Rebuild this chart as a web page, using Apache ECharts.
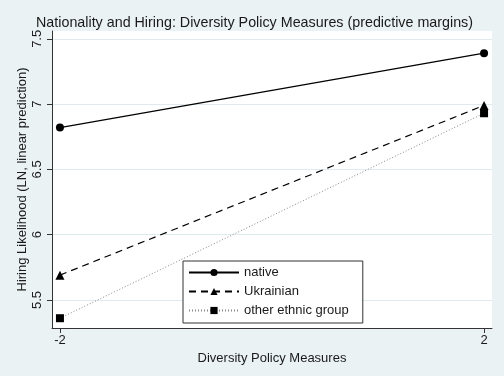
<!DOCTYPE html>
<html>
<head>
<meta charset="utf-8">
<script src="https://cdn.jsdelivr.net/npm/echarts@6/dist/echarts.min.js"></script>
<style>
html, body { margin: 0; padding: 0; background: #eaf2f3; }
#main { width: 504px; height: 376px; }
</style>
</head>
<body>
<div id="main"></div>
<script>
var xValues = [-2, 2];
var nativeData = [6.82, 7.39];
var ukrainianData = [5.69, 6.99];
var otherData = [5.36, 6.93];
var yTicks = [5.5, 6, 6.5, 7, 7.5];

function pairs(ys) {
    return xValues.map(function (x, i) { return [x, ys[i]]; });
}

var myChart = echarts.init(document.getElementById('main'));
var font = 'Liberation Sans, Arial, sans-serif';

var option = {
    backgroundColor: '#eaf2f3',
    animation: false,
    title: {
        text: 'Nationality and Hiring: Diversity Policy Measures (predictive margins)',
        left: 31,
        top: 11,
        textStyle: { fontFamily: font, fontSize: 14.3, fontWeight: 'normal', color: '#1a1a1a' }
    },
    legend: {
        orient: 'vertical',
        left: 183,
        top: 261,
        padding: [5, 14, 6, 5],
        itemGap: 6,
        itemWidth: 50,
        itemHeight: 9,
        backgroundColor: '#ffffff',
        borderColor: '#333333',
        borderWidth: 1,
        textStyle: { fontFamily: font, fontSize: 13, color: '#1a1a1a' },
        data: ['native', 'Ukrainian', 'other ethnic group']
    },
    grid: {
        left: 52,
        right: 12,
        top: 31,
        bottom: 48,
        show: true,
        backgroundColor: '#ffffff',
        borderWidth: 0
    },
    xAxis: {
        type: 'value',
        min: -2.075,
        max: 2.075,
        name: 'Diversity Policy Measures',
        nameLocation: 'middle',
        nameGap: 22,
        nameTextStyle: { fontFamily: font, fontSize: 13, color: '#1a1a1a' },
        axisLine: { onZero: false, lineStyle: { color: '#333333' } },
        axisTick: { customValues: xValues, length: 5, lineStyle: { color: '#333333' } },
        axisLabel: { customValues: xValues, fontFamily: font, fontSize: 13, color: '#1a1a1a', margin: 6 },
        splitLine: { show: false }
    },
    yAxis: {
        type: 'value',
        min: 5.285,
        max: 7.56,
        name: 'Hiring Likelihood (LN, linear prediction)',
        nameLocation: 'middle',
        nameGap: 23,
        nameMoveOverlap: false,
        nameTextStyle: { fontFamily: font, fontSize: 13, color: '#1a1a1a' },
        axisLine: { show: true, onZero: false, lineStyle: { color: '#333333' } },
        axisTick: { show: true, customValues: yTicks, length: 5, lineStyle: { color: '#333333' } },
        axisLabel: {
            customValues: yTicks,
            rotate: 90,
            fontFamily: font,
            fontSize: 13,
            color: '#1a1a1a',
            margin: 8,
            formatter: function (v) { return String(v); }
        },
        splitLine: { show: true, lineStyle: { color: '#dfeaee', width: 1 } }
    },
    series: [
        {
            name: 'native',
            type: 'line',
            data: pairs(nativeData),
            symbol: 'circle',
            symbolSize: 8,
            itemStyle: { color: '#000000' },
            lineStyle: { color: '#000000', width: 1.2, type: 'solid' }
        },
        {
            name: 'Ukrainian',
            type: 'line',
            data: pairs(ukrainianData),
            symbol: 'triangle',
            symbolSize: 9,
            itemStyle: { color: '#000000' },
            lineStyle: { color: '#000000', width: 1.2, type: [7, 5] }
        },
        {
            name: 'other ethnic group',
            type: 'line',
            data: pairs(otherData),
            symbol: 'rect',
            symbolSize: 8,
            itemStyle: { color: '#000000' },
            lineStyle: { color: '#888888', width: 1, type: [1, 2] }
        }
    ]
};
myChart.setOption(option);
</script>
</body>
</html>
